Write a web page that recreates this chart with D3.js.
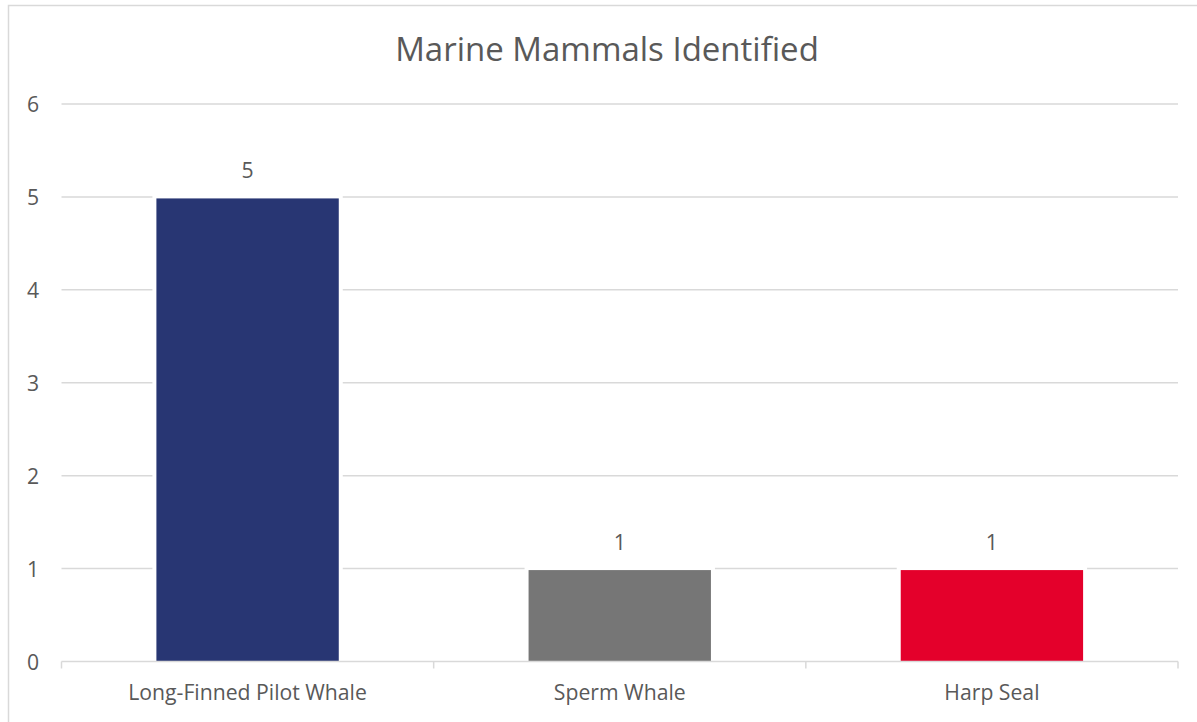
<!DOCTYPE html>
<html>
<head>
<meta charset="utf-8">
<script src="https://cdn.jsdelivr.net/npm/d3@7/dist/d3.min.js"></script>
<style>
  html, body { margin: 0; padding: 0; background: #fff; }
  svg { display: block; }
  text { font-family: "Open Sans", "Liberation Sans", sans-serif; fill: #595959; }
</style>
</head>
<body>
<svg id="chart" width="1197" height="722"></svg>
<script>
// Marine mammal sightings by species
const categories = ["Long-Finned Pilot Whale", "Sperm Whale", "Harp Seal"];
const counts = [5, 1, 1];
const barColors = ["#283673", "#767676", "#E4002B"];
const yTicks = [0, 1, 2, 3, 4, 5, 6];
const chartTitle = "Marine Mammals Identified";

const W = 1197, H = 722;
const plot = { left: 61.5, right: 1178, top: 104, bottom: 661.5 };
const fontPx = 21.2;

const svg = d3.select("#chart");

// Chart frame (extends past the right and bottom edges)
svg.append("rect")
  .attr("x", 8.5).attr("y", 5.5)
  .attr("width", W + 20).attr("height", H + 20)
  .attr("fill", "none").attr("stroke", "#d9d9d9").attr("stroke-width", 1.5);

const x = d3.scaleBand()
  .domain(categories)
  .range([plot.left, plot.right])
  .paddingInner(0).paddingOuter(0);

const y = d3.scaleLinear()
  .domain([0, 6])
  .range([plot.bottom, plot.top]);

// Horizontal gridlines
svg.append("g")
  .selectAll("line")
  .data(yTicks.filter(d => d > 0))
  .join("line")
  .attr("x1", plot.left).attr("x2", plot.right)
  .attr("y1", d => y(d)).attr("y2", d => y(d))
  .attr("stroke", "#d9d9d9").attr("stroke-width", 1.5);

// Y axis labels
const yAxis = d3.axisLeft(y).tickValues(yTicks).tickSize(0).tickPadding(0).tickFormat(d3.format("d"));
const gy = svg.append("g")
  .attr("transform", `translate(39,0)`)
  .call(yAxis);
gy.select(".domain").remove();
gy.selectAll("text")
  .style("font-size", fontPx + "px")
  .style("font-family", null)
  .attr("fill", "#595959")
  .attr("dy", "0.36em");

// Bars
const barW = x.bandwidth() * 0.49;
const bars = svg.append("g")
  .selectAll("g")
  .data(categories.map((c, i) => ({ c, v: counts[i], col: barColors[i] })))
  .join("g");

bars.append("rect")
  .attr("x", d => x(d.c) + x.bandwidth() / 2 - barW / 2 - 4)
  .attr("y", d => y(d.v) - 2)
  .attr("width", barW + 8)
  .attr("height", d => plot.bottom - y(d.v))
  .attr("fill", "#fff");

bars.append("rect")
  .attr("x", d => x(d.c) + x.bandwidth() / 2 - barW / 2)
  .attr("y", d => y(d.v) + 1.5)
  .attr("width", barW)
  .attr("height", d => plot.bottom - y(d.v) - 2)
  .attr("fill", d => d.col);

// Value labels
bars.append("text")
  .attr("x", d => x(d.c) + x.bandwidth() / 2)
  .attr("y", d => y(d.v) - 18.5)
  .attr("text-anchor", "middle")
  .style("font-size", fontPx + "px")
  .text(d => d.v);

// X axis line with category ticks
const xAxisG = svg.append("g");
xAxisG.append("line")
  .attr("x1", plot.left).attr("x2", plot.right)
  .attr("y1", plot.bottom).attr("y2", plot.bottom)
  .attr("stroke", "#d9d9d9").attr("stroke-width", 1.5);
const bounds = categories.map(c => x(c)).concat([x(categories[categories.length - 1]) + x.bandwidth()]);
xAxisG.selectAll("line.tick")
  .data(bounds)
  .join("line")
  .attr("class", "tick")
  .attr("x1", d => d).attr("x2", d => d)
  .attr("y1", plot.bottom).attr("y2", plot.bottom + 7)
  .attr("stroke", "#d9d9d9").attr("stroke-width", 1.5);

xAxisG.selectAll("text")
  .data(categories)
  .join("text")
  .attr("x", d => x(d) + x.bandwidth() / 2)
  .attr("y", 700)
  .attr("text-anchor", "middle")
  .style("font-size", fontPx + "px")
  .text(d => d);

// Title
svg.append("text")
  .attr("x", 607)
  .attr("y", 61)
  .attr("text-anchor", "middle")
  .style("font-size", "33px")
  .text(chartTitle);
</script>
</body>
</html>
